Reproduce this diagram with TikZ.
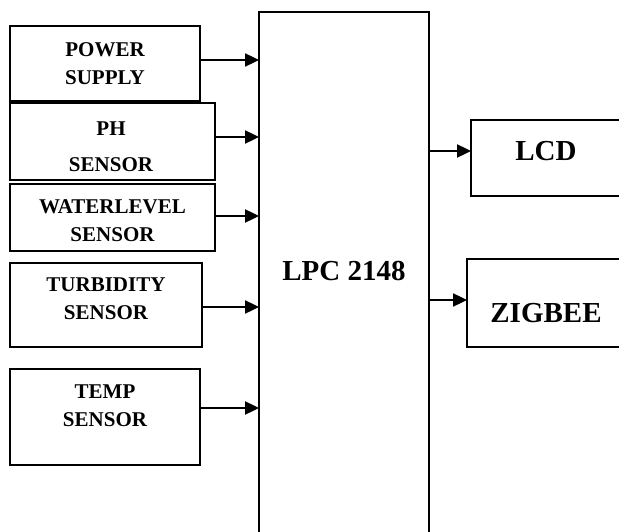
\documentclass[tikz,border=0pt]{standalone}
\usepackage{fontspec}
\setmainfont{Liberation Serif}
\usetikzlibrary{arrows.meta,positioning,calc}
\newcommand{\smallfnt}{\fontsize{21}{28}\selectfont\bfseries}
\newcommand{\bigfnt}{\fontsize{29}{34}\selectfont\bfseries}
\tikzset{
  blk/.style={draw,line width=1.6pt,rectangle,inner sep=0pt,outer sep=0pt},
  lbl/.style={inner sep=0pt,align=center,font=\smallfnt},
  biglbl/.style={inner sep=0pt,font=\bigfnt},
  arr/.style={-{Triangle[length=14pt,width=13pt]},line width=2.4pt}
}
\begin{document}
\begin{tikzpicture}[x=1pt,y=-1pt]
\useasboundingbox (0,0) rectangle (619,532);
\clip (0,0) rectangle (619,532);
% input blocks
\node[blk,minimum width=190,minimum height=75] (pwr) at (105,63.5) {};
\node[blk,minimum width=205,minimum height=77] (ph) at (112.5,141.5) {};
\node[blk,minimum width=205,minimum height=67] (wl) at (112.5,217.5) {};
\node[blk,minimum width=192,minimum height=84] (turb) at (106,305) {};
\node[blk,minimum width=190,minimum height=96] (temp) at (105,417) {};
\node[lbl] (pwrtxt) at (105,64) {POWER\\SUPPLY};
\node[lbl] (phtxt) at (111,146.5) {PH\\[8pt]SENSOR};
\node[lbl] (wltxt) at (112.5,221) {WATERLEVEL\\SENSOR};
\node[lbl] (turbtxt) at (106,299) {TURBIDITY\\SENSOR};
\node[lbl] (temptxt) at (105,405.5) {TEMP\\SENSOR};
% controller
\node[blk,minimum width=170,minimum height=548] (lpc) at (344,286) {};
\node[biglbl] (lpctxt) at (344,270.5) {LPC 2148};
% output blocks
\node[blk,minimum width=169,minimum height=76] (lcd) at (555.5,158) {};
\node[blk,minimum width=173,minimum height=88] (zig) at (553.5,303) {};
\node[biglbl] (lcdtxt) at (546,151) {LCD};
\node[biglbl] (zigtxt) at (546,313) {ZIGBEE};
% connections
\draw[arr] ([yshift=3.5pt]pwr.east) -- ([yshift=3.5pt]pwr.east -| lpc.west);
\draw[arr] ([yshift=4.5pt]ph.east) -- ([yshift=4.5pt]ph.east -| lpc.west);
\draw[arr] ([yshift=1.5pt]wl.east) -- ([yshift=1.5pt]wl.east -| lpc.west);
\draw[arr] ([yshift=-2pt]turb.east) -- ([yshift=-2pt]turb.east -| lpc.west);
\draw[arr] ([yshift=9pt]temp.east) -- ([yshift=9pt]temp.east -| lpc.west);
\draw[arr] ([yshift=7pt]lcd.west -| lpc.east) -- ([yshift=7pt]lcd.west);
\draw[arr] ([yshift=3pt]zig.west -| lpc.east) -- ([yshift=3pt]zig.west);
\end{tikzpicture}
\end{document}
